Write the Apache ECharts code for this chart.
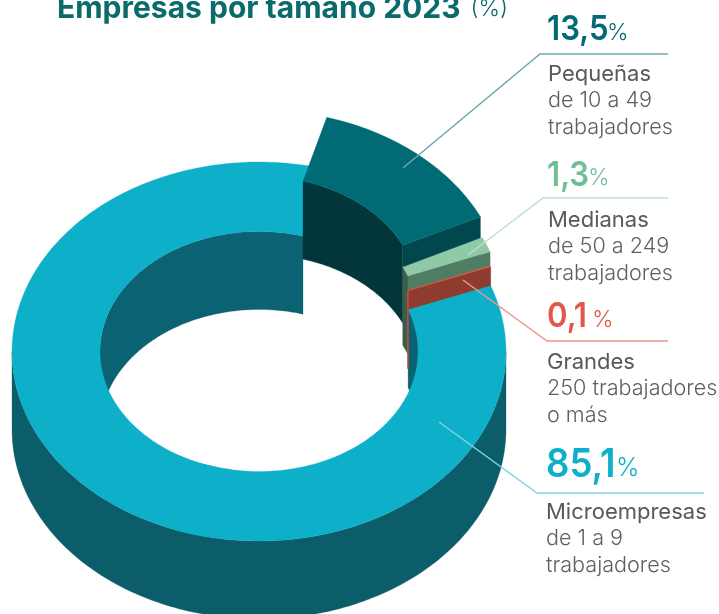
<!DOCTYPE html>
<html><head><meta charset="utf-8">
<style>html,body{margin:0;padding:0;background:#fff}#c{width:719px;height:614px}</style>
<script src="https://cdn.jsdelivr.net/npm/echarts@6/dist/echarts.min.js"></script>
</head><body><div id="c"></div>
<script>
// Data
const categories = ['Microempresas', 'Pequeñas', 'Medianas', 'Grandes'];
const values = [85.1, 13.5, 1.3, 0.1];
const valueLabels = ['85,1', '13,5', '1,3', '0,1'];
const sublines = [['de 1 a 9', 'trabajadores'], ['de 10 a 49', 'trabajadores'], ['de 50 a 249', 'trabajadores'], ['250 trabajadores', 'o más']];
const titleText = 'Empresas por tamaño 2023';

// Styles
const topColors = ['#0db0c8', '#006b75', '#90c9a6', '#e2594a'];
const cutColors = [null, '#00474e', '#4f7d64', '#8f3b30'];
const innerColors = ['#0b6272', '#02363b', '#3e5c4c', '#c9503f'];
const outerWall = '#0a5d69';
const valueColors = ['#0db0c8', '#006b75', '#6fbf95', '#e2574a'];
const lineColors = ['#7dd6e3', '#6da9b0', '#bfe0cf', '#f0958a'];
const lifts = [0, -55, -33, -19];        // how far each slice is pulled up
const layers = [0, 10, 20, 30];
const FONT = 'Inter';
const C = {x: 259, y: 351.5, depth: 78, R: [247, 189.5], r: [159, 120]};
const outerRadii = [C.R, [245, 186.5], C.R, C.R];
const START = 69.7;                      // first slice starts here, clockwise from 12 o'clock

// Angle scale: cumulative value -> degrees
const toAngle = v => echarts.number.linearMap(v, [0, 100], [START, START + 360]);
const sum = arr => arr.reduce((a, b) => a + b, 0);

function pt(deg, rad, dy) {
  const t = deg * Math.PI / 180;
  return [C.x + rad[0] * Math.sin(t), C.y - rad[1] * Math.cos(t) + dy];
}
function arc(a0, a1, rad, dy) {
  const n = Math.max(2, Math.ceil(Math.abs(a1 - a0) / 1));
  const out = [];
  for (let i = 0; i <= n; i++) out.push(pt(a0 + (a1 - a0) * i / n, rad, dy));
  return out;
}
const poly = (points, fill, z2, lw) => ({type: 'polygon', z2, shape: {points}, style: {fill, stroke: fill, lineWidth: lw || 0.3}, silent: true});
const ring = (a0, a1, lift, R) => arc(a0, a1, R, lift).concat(arc(a1, a0, C.r, lift));
const wall = (a0, a1, rad, lift) => arc(a0, a1, rad, lift).concat(arc(a1, a0, rad, lift + C.depth));

function renderItem(params, api) {
  const i = params.dataIndex;
  const before = sum(values.slice(0, i));
  const a0 = toAngle(before), a1 = toAngle(before + api.value(0));
  const lift = lifts[i], z = layers[i], R = outerRadii[i];
  const ch = [];
  if (i === 0) {
    // a0 ~ 70deg, a1 ~ 376deg: the ring wraps round the front and up the left side
    ch.push(poly(wall(270, a1, C.r, 0), innerColors[0], 0));
    ch.push(poly(wall(90, 270, R, 0), outerWall, 1));
    ch.push(poly(ring(190, a1, 0, R), topColors[0], 2));
    // the near part sits in front of the lifted slices' walls
    ch.push(poly(wall(a0, 90, C.r, 0), innerColors[0], 40));
    ch.push(poly(ring(a0, 200, 0, R), topColors[0], 41));
  } else {
    ch.push(poly(wall(a0, a1, C.r, lift), innerColors[i], i === 3 ? 45 : z, i === 3 ? 0.8 : 0.3));
    ch.push(poly([pt(a1, C.r, lift), pt(a1, R, lift), pt(a1, R, lift + C.depth), pt(a1, C.r, lift + C.depth)], cutColors[i], z + 1));
    ch.push(poly(ring(a0, a1, lift, R), topColors[i], z + 2));
  }
  return {type: 'group', children: ch};
}

const labelX = [546, 547, 547, 547];
const textX = [546, 548, 548, 547];
const pctX = [616, 607, 588, 592];
const valueY = [465, 30, 175.5, 317];
const valueSize = [40, 34, 34, 34];
const pctSize = [25, 23, 23, 23];
const nameY = [512, 74, 220, 362];
const lineStep = 26.7;
const leaders = [
  [[439, 422], [537, 493], [704, 493]],
  [[403, 168], [540, 54], [668, 54]],
  [[468, 255], [543, 198], [668, 198]],
  [[463, 280], [547, 341], [668, 341]]
];

const graphic = [];
categories.forEach((name, i) => {
  graphic.push({type: 'polyline', z: 20, silent: true, shape: {points: leaders[i]}, style: {stroke: lineColors[i], lineWidth: 1.5, fill: null}});
  graphic.push({type: 'text', z: 21, x: labelX[i], y: valueY[i], scaleX: 0.915, style: {
    text: valueLabels[i], verticalAlign: 'middle', align: 'left',
    fontFamily: FONT, fontWeight: 600, fontSize: valueSize[i], fill: valueColors[i]
  }});
  graphic.push({type: 'text', z: 21, x: pctX[i], y: valueY[i] + 3, style: {
    text: '%', verticalAlign: 'middle', align: 'left',
    fontFamily: FONT, fontWeight: 300, fontSize: pctSize[i], fill: valueColors[i]
  }});
  graphic.push({type: 'text', z: 21, x: textX[i], y: nameY[i], style: {text: name, fontFamily: FONT, fontWeight: 400, fontSize: 22, fill: '#595959', verticalAlign: 'middle'}});
  sublines[i].forEach((s, k) => {
    graphic.push({type: 'text', z: 21, x: textX[i], y: nameY[i] + lineStep * (k + 1), style: {text: s, fontFamily: FONT, fontWeight: 300, fontSize: 21.6, fill: '#5f5f5f', verticalAlign: 'middle'}});
  });
});

const chart = echarts.init(document.getElementById('c'), null, {renderer: 'canvas'});
chart.setOption({
  animation: false,
  backgroundColor: '#fff',
  title: {
    left: 57, top: -6, padding: 0,
    text: '{b|' + titleText + '}  {l|(%)}',
    textStyle: {rich: {
      b: {fontFamily: FONT, fontWeight: 700, fontSize: 30, color: '#0a6b6b'},
      l: {fontFamily: FONT, fontWeight: 300, fontSize: 23, color: '#0a6b6b'}
    }}
  },
  graphic,
  series: [{
    type: 'custom', coordinateSystem: 'none', silent: true,
    renderItem,
    data: values.map((v, i) => ({name: categories[i], value: [v]}))
  }]
});
</script></body></html>
